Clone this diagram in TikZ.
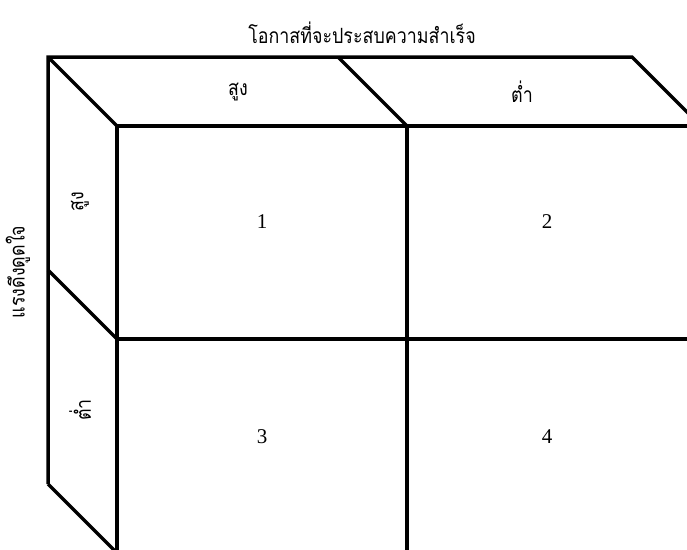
\documentclass[tikz,border=0pt]{standalone}
\usepackage{fontspec}
\setmainfont{Liberation Serif}
\newfontfamily\thaifont[Script=Thai, FakeStretch=0.85]{Loma}
\tikzset{
  edge/.style={line width=3.5pt, line join=miter},
  thai/.style={font=\thaifont\fontsize{21}{24}\selectfont, inner sep=0pt},
  num/.style={font=\fontsize{21}{24}\selectfont, inner sep=0pt},
}
\begin{document}
\begin{tikzpicture}[x=1pt,y=-1pt]
\useasboundingbox (0,0) rectangle (687,549);
\begin{scope}
\clip (0,0) rectangle (687,549);
% back corners
\coordinate (b1) at (48,57);
\coordinate (b2) at (338,57);
\coordinate (b3) at (632,57);
\coordinate (bl2) at (48,270);
\coordinate (bl3) at (48,484);
% front corners
\coordinate (f1) at (117,126);
\coordinate (f2) at (407,126);
\coordinate (f3) at (701,126);
\coordinate (fl2) at (117,339);
\coordinate (fl3) at (117,553);
\coordinate (fr2) at (701,339);
\coordinate (fm3) at (407,553);
% top face
\draw[edge] (bl3) -- (b1) -- (b3) -- (f3);
\draw[edge] (b1) -- (f1);
\draw[edge] (b2) -- (f2);
\draw[edge] (f1) -- (f3);
% left face
\draw[edge] (bl2) -- (fl2);
\draw[edge] (bl3) -- (fl3);
% front face
\draw[edge] (f1) -- (fl3);
\draw[edge] (f2) -- (fm3);
\draw[edge] (fl2) -- (fr2);
\end{scope}
% labels
\node[thai] (title) at (362,33) {โอกาสที่จะประสบความสำเร็จ};
\node[thai] (colhigh) at (238,92) {สูง};
\node[thai] (collow) at (522,92) {ต่ำ};
\node[thai, rotate=90] (rowtitle) at (18,272) {แรงดึงดูดใจ};
\node[thai, rotate=90] (rowhigh) at (80,202) {สูง};
\node[thai, rotate=90] (rowlow) at (80,410) {ต่ำ};
\node[num] (n1) at (262,222) {1};
\node[num] (n2) at (547,222) {2};
\node[num] (n3) at (262,437) {3};
\node[num] (n4) at (547,437) {4};
\end{tikzpicture}
\end{document}
